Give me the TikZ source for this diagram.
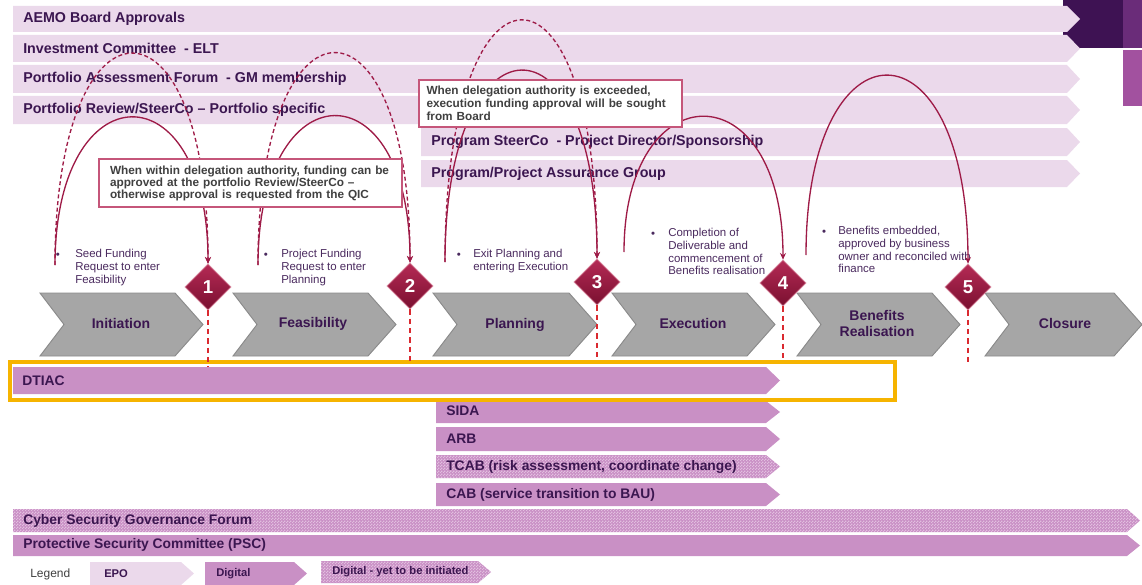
\documentclass[tikz,border=0pt]{standalone}
\usepackage{fontspec}
\setmainfont{Liberation Sans}
\usetikzlibrary{shapes.geometric,arrows.meta,patterns}
\definecolor{epoC}{HTML}{EBD9EB}
\definecolor{digC}{HTML}{C990C5}
\definecolor{dotC}{HTML}{E2BEDF}
\definecolor{txtC}{HTML}{3B1650}
\definecolor{bulC}{HTML}{4A2A5E}
\definecolor{chevC}{HTML}{A6A6A6}
\definecolor{chevD}{HTML}{8A8A8A}
\definecolor{msT}{HTML}{B52A55}
\definecolor{msB}{HTML}{7A1030}
\definecolor{msE}{HTML}{D98AA0}
\definecolor{arcC}{HTML}{9E1B47}
\definecolor{vdC}{HTML}{DA2A30}
\definecolor{coC}{HTML}{C5567A}
\definecolor{coT}{HTML}{404040}
\definecolor{yelC}{HTML}{F6B400}
\definecolor{topD}{HTML}{3E1253}
\definecolor{topM}{HTML}{6A2C79}
\definecolor{topL}{HTML}{A2519F}
\pgfdeclarepatternformonly{finechk}{\pgfqpoint{0pt}{0pt}}{\pgfqpoint{2pt}{2pt}}{\pgfqpoint{2pt}{2pt}}{%
  \pgfpathrectangle{\pgfqpoint{0pt}{0pt}}{\pgfqpoint{1pt}{1pt}}%
  \pgfpathrectangle{\pgfqpoint{1pt}{1pt}}{\pgfqpoint{1pt}{1pt}}%
  \pgfusepath{fill}}
% style, x1, y1, x2, y2, tip depth
\newcommand\arrbar[6]{\path[#1] (#2,#3) -- (#4,#3) -- ({#4+#6},{(#3+#5)/2}) -- (#4,#5) -- (#2,#5) -- cycle;}
% left x, width
\newcommand\chevshape[2]{\path[chev] (#1,293) -- ({#1+#2-28},293) -- ({#1+#2},324.5) -- ({#1+#2-28},356) -- (#1,356) -- ({#1+24},324.5) -- cycle;}
\begin{document}
\begin{tikzpicture}[x=0.75pt,y=-0.75pt,
  epo/.style={fill=epoC},
  dig/.style={fill=digC},
  digdot/.style={fill=digC, postaction={pattern=finechk, pattern color=dotC}},
  bartxt/.style={anchor=west, inner sep=0, text=txtC, font=\fontsize{10.7}{12}\selectfont\bfseries},
  lowtxt/.style={anchor=west, inner sep=0, text=txtC, font=\fontsize{10.4}{12}\selectfont\bfseries},
  chev/.style={fill=chevC, draw=chevD, line width=0.7pt},
  chevtxt/.style={inner sep=0, text=txtC, align=center, font=\fontsize{10.5}{12}\selectfont\bfseries},
  ms/.style={diamond, inner sep=0, minimum width=34.5pt, minimum height=34.5pt, top color=msT, bottom color=msB, draw=msE, line width=0.5pt, text=white, font=\fontsize{14}{14}\selectfont\bfseries},
  bultxt/.style={anchor=north west, inner sep=0, align=left, text=bulC, font=\fontsize{8.6}{9.6}\selectfont},
  bdot/.style={inner sep=0, text=bulC, font=\fontsize{8.6}{9}\selectfont},
  arcS/.style={draw=arcC, line width=1pt, -{Stealth[length=5pt,width=4.5pt]}},
  arcD/.style={arcS, dash pattern=on 3pt off 2pt},
  vdash/.style={draw=vdC, line width=1pt, dash pattern=on 4pt off 3pt},
  callout/.style={draw=coC, line width=0.9pt, fill=white, inner sep=0, align=left, text=coT},
  ybox/.style={draw=yelC, line width=2.4pt},
  legtxt/.style={anchor=west, inner sep=0, text=txtC, font=\fontsize{8.4}{10}\selectfont\bfseries}
]
\useasboundingbox (0,0) rectangle (1142,585);
% decorative corner
\fill[topD] (1063,0) rectangle (1123,48);
\fill[topM] (1123,0) rectangle (1142,48);
\fill[topL] (1123,50) rectangle (1142,106);
% top EPO bars
\arrbar{epo}{13}{6}{1067}{32}{13}
\arrbar{epo}{13}{35}{1067}{62}{13}
\arrbar{epo}{13}{65}{1067}{93}{13}
\arrbar{epo}{13}{96}{1067}{124}{13}
\arrbar{epo}{421}{128}{1067}{156}{13}
\arrbar{epo}{421}{160}{1067}{187}{13}
\node[bartxt] (t1) at (23,19) {AEMO Board Approvals};
\node[bartxt] (t2) at (23,48.5) {Investment Committee\ \ - ELT};
\node[bartxt] (t3) at (23,79) {Portfolio Assessment Forum\ \ - GM membership};
\node[bartxt] (t4) at (23,110) {Portfolio Review/SteerCo – Portfolio specific};
\node[bartxt] (t5) at (431,142) {Program SteerCo\ \ - Project Director/Sponsorship};
\node[bartxt] (t6) at (431,173.5) {Program/Project Assurance Group};
% lower bars
\arrbar{dig}{13}{367}{766}{394}{14}
\arrbar{dig}{436}{401}{766}{423}{14}
\arrbar{dig}{436}{427}{766}{451}{14}
\arrbar{digdot}{436}{455}{766}{478}{14}
\arrbar{dig}{436}{483}{766}{506}{14}
\arrbar{digdot}{13}{509}{1127}{532}{13}
\arrbar{dig}{13}{535}{1127}{556}{13}
\node[lowtxt] (dtiac) at (22,380.5) {DTIAC};
\node[lowtxt] (sida) at (446,411) {SIDA};
\node[lowtxt] (arb) at (446,439) {ARB};
\node[lowtxt] (tcab) at (446,466.5) {TCAB (risk assessment, coordinate change)};
\node[lowtxt] (cab) at (446,494.5) {CAB (service transition to BAU)};
\node[lowtxt] (cyber) at (23,520.5) {Cyber Security Governance Forum};
\node[lowtxt] (psc) at (23,545) {Protective Security Committee (PSC)};
% legend
\node[anchor=west, inner sep=0, text=coT, font=\fontsize{9}{10}\selectfont] (leg) at (30,574) {Legend};
\arrbar{epo}{90}{562}{181}{585}{13}
\arrbar{dig}{205}{562}{294}{585}{13}
\arrbar{digdot}{321}{561}{478}{583}{13}
\node[legtxt] (lepo) at (104,573.5) {EPO};
\node[legtxt] (ldig) at (216,573.5) {Digital};
\node[legtxt] (lyet) at (332,572) {Digital - yet to be initiated};
% chevrons
\chevshape{40}{163}
\chevshape{233}{163}
\chevshape{433}{164}
\chevshape{612}{163}
\chevshape{797}{163}
\chevshape{985}{157}
\node[chevtxt] (p1) at (121,323.5) {Initiation};
\node[chevtxt] (p2) at (313,323.5) {Feasibility};
\node[chevtxt] (p3) at (515,324.5) {Planning};
\node[chevtxt] (p4) at (693,323.5) {Execution};
\node[chevtxt] (p5) at (877,323) {Benefits\\Realisation};
\node[chevtxt] (p6) at (1065,323.5) {Closure};
% bullet texts
\node[bdot] (g1) at (58,255.5) {•};
\node[bultxt] (b1) at (75,249) {Seed Funding\\Request to enter\\Feasibility};
\node[bdot] (g2) at (266,255.5) {•};
\node[bultxt] (b2) at (281,249) {Project Funding\\Request to enter\\Planning};
\node[bdot] (g3) at (459,255.5) {•};
\node[bultxt] (b3) at (473,249) {Exit Planning and\\entering Execution};
\node[bdot] (g4) at (653,234.5) {•};
\node[bultxt] (b4) at (668,228) {Completion of\\Deliverable and\\commencement of\\Benefits realisation};
\node[bdot] (g5) at (824,232.5) {•};
\node[bultxt] (b5) at (838,226) {Benefits embedded,\\approved by business\\owner and reconciled with\\finance};
% milestones
\node[ms] (d1) at (208,287) {1};
\node[ms] (d2) at (410,286) {2};
\node[ms] (d3) at (597,282) {3};
\node[ms] (d4) at (783,283) {4};
\node[ms] (d5) at (968,287) {5};
% arc start points and line ends
\coordinate (a1) at (55,265);
\coordinate (a2) at (258,265);
\coordinate (a3) at (445,262);
\coordinate (a4) at (624,252);
\coordinate (a5) at (806,255);
\coordinate (e1) at (208,367);
\coordinate (e2) at (410,364);
\coordinate (e3) at (597,360);
\coordinate (e4) at (783,360);
\coordinate (e5) at (968,366);
% arcs
\draw[arcS] (a1) .. controls +(0,-196) and +(0,-196) .. (d1.north);
\draw[arcD] (a1) .. controls +(0,-281) and +(0,-281) .. (d1.north);
\draw[arcS] (a2) .. controls +(0,-197) and +(0,-197) .. (d2.north);
\draw[arcD] (a2) .. controls +(0,-281) and +(0,-281) .. (d2.north);
\draw[arcS] (a3) .. controls +(0,-253) and +(0,-253) .. (d3.north);
\draw[arcD] (a3) .. controls +(0,-320) and +(0,-320) .. (d3.north);
\draw[arcS] (a4) .. controls +(0,-180) and +(0,-191) .. (d4.north);
\draw[arcS] (a5) .. controls +(0,-239) and +(0,-251) .. (d5.north);
% callouts
\node[callout, minimum width=227.25pt, minimum height=36pt, text width=210.75pt,
  font=\fontsize{8.85}{9}\selectfont\bfseries] (c1) at (250.5,183)
  {When within delegation authority, funding can be\\approved at the portfolio Review/SteerCo –\\otherwise approval is requested from the QIC};
\node[callout, minimum width=197.25pt, minimum height=35.25pt, text width=186pt,
  font=\fontsize{8.85}{9.75}\selectfont\bfseries] (c3) at (550.5,103.5)
  {When delegation authority is exceeded,\\execution funding approval will be sought\\from Board};
% redraw milestones on top
\node[ms] at (d1) {1};
\node[ms] at (d2) {2};
\node[ms] at (d3) {3};
\node[ms] at (d4) {4};
\node[ms] at (d5) {5};
% yellow frame
\draw[ybox] (10,362) rectangle (895,400);
% vertical dashed lines
\draw[vdash] (d1.south) -- (e1);
\draw[vdash] (d2.south) -- (e2);
\draw[vdash] (d3.south) -- (e3);
\draw[vdash] (d4.south) -- (e4);
\draw[vdash] (d5.south) -- (e5);
\end{tikzpicture}
\end{document}
